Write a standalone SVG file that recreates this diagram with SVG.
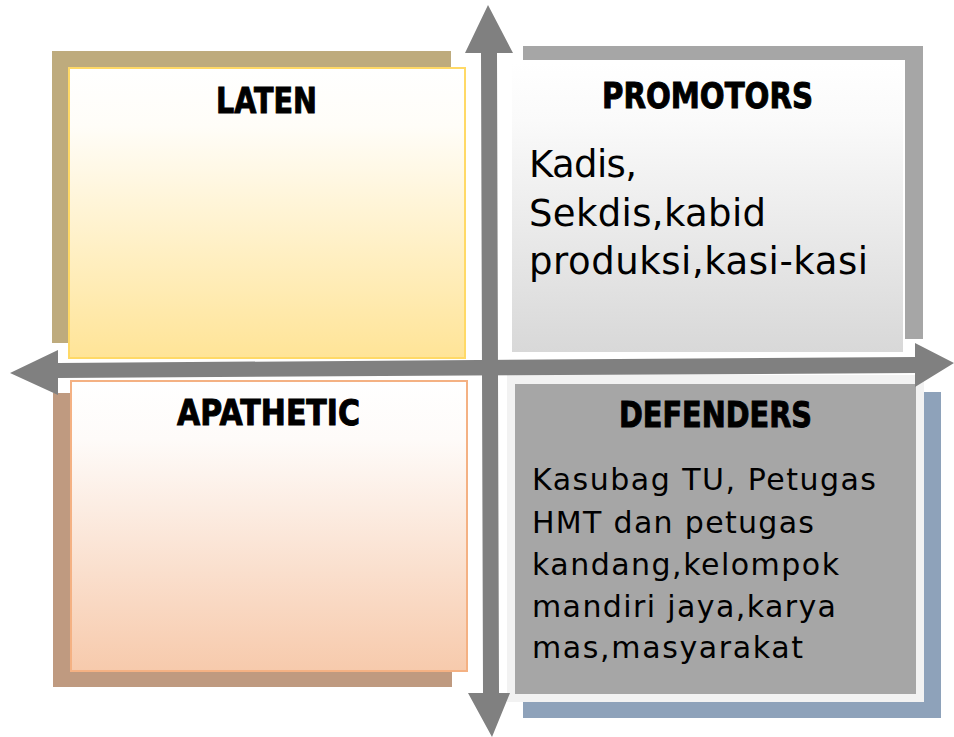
<svg xmlns="http://www.w3.org/2000/svg" width="954" height="737" viewBox="0 0 954 737">
<style>
.title{font-family:"DejaVu Sans","Liberation Sans",sans-serif;font-weight:bold;font-size:35px;fill:#000;stroke:#000;stroke-width:1}
.body{font-family:"DejaVu Sans","Liberation Sans",sans-serif;fill:#000}
.axis{fill:#808080}
</style>
<defs>
<linearGradient id="gLaten" x1="0" y1="0" x2="0" y2="1">
<stop offset="0" stop-color="#FFFFFF"/><stop offset="0.2" stop-color="#FFFDF8"/><stop offset="1" stop-color="#FFE497"/>
</linearGradient>
<linearGradient id="gApa" x1="0" y1="0" x2="0" y2="1">
<stop offset="0" stop-color="#FFFFFF"/><stop offset="0.2" stop-color="#FEFBF9"/><stop offset="1" stop-color="#F7CAAC"/>
</linearGradient>
<linearGradient id="gPro" x1="0" y1="0" x2="0" y2="1">
<stop offset="0" stop-color="#FFFFFF"/><stop offset="0.2" stop-color="#FAFAFA"/><stop offset="1" stop-color="#D8D8D8"/>
</linearGradient>
</defs>

<g id="laten">
<rect x="52" y="51" width="399" height="292" fill="#BEAB7D"/>
<rect x="69" y="68" width="396" height="290" fill="url(#gLaten)" stroke="#FFD966" stroke-width="2"/>
<text class="title" x="216" y="113" textLength="101" lengthAdjust="spacingAndGlyphs">LATEN</text>
</g>

<g id="promotors">
<rect x="523" y="46" width="400" height="293" fill="#A6A6A6"/>
<rect x="509" y="60" width="396" height="294" fill="#FFFFFF"/>
<rect x="512" y="63" width="391" height="289" fill="url(#gPro)"/>
<text class="title" x="602" y="108" textLength="211" lengthAdjust="spacingAndGlyphs">PROMOTORS</text>
<text class="body" font-size="37">
<tspan x="529" y="177" textLength="108" lengthAdjust="spacing">Kadis,</tspan>
<tspan x="529" y="226" textLength="237" lengthAdjust="spacing">Sekdis,kabid</tspan>
<tspan x="529" y="274" textLength="339" lengthAdjust="spacing">produksi,kasi-kasi</tspan>
</text>
</g>

<g id="apathetic">
<rect x="53" y="393" width="399" height="294" fill="#BF9A80"/>
<rect x="58" y="382" width="12" height="11" fill="#FFFFFF"/>
<rect x="71" y="381" width="396" height="290" fill="url(#gApa)" stroke="#F4B183" stroke-width="2"/>
<text class="title" x="177" y="425" textLength="183" lengthAdjust="spacingAndGlyphs">APATHETIC</text>
</g>

<g id="defenders">
<rect x="523" y="392" width="418" height="326" fill="#8EA2BA"/>
<rect x="507" y="375" width="417" height="327" fill="#F2F2F2"/>
<rect x="515" y="384" width="401" height="310" fill="#A6A6A6"/>
<text class="title" x="619" y="427" textLength="193" lengthAdjust="spacingAndGlyphs">DEFENDERS</text>
<text class="body" font-size="30">
<tspan x="532" y="490" textLength="344" lengthAdjust="spacing">Kasubag TU, Petugas</tspan>
<tspan x="532" y="533" textLength="282" lengthAdjust="spacing">HMT dan petugas</tspan>
<tspan x="532" y="575" textLength="307" lengthAdjust="spacing">kandang,kelompok</tspan>
<tspan x="532" y="617" textLength="304" lengthAdjust="spacing">mandiri jaya,karya</tspan>
<tspan x="532" y="658" textLength="271" lengthAdjust="spacing">mas,masyarakat</tspan>
</text>
</g>

<g id="connectors">
<polygon class="axis" points="10,373 58,350 58,363 915,357 915,343 954,363 915,387 915,373 58,378 58,395"/>
<polygon class="axis" points="488,5 513,53 497,53 499,693 510,693 492,737 468,693 483,693 481,53 465,53"/>
</g>
</svg>
